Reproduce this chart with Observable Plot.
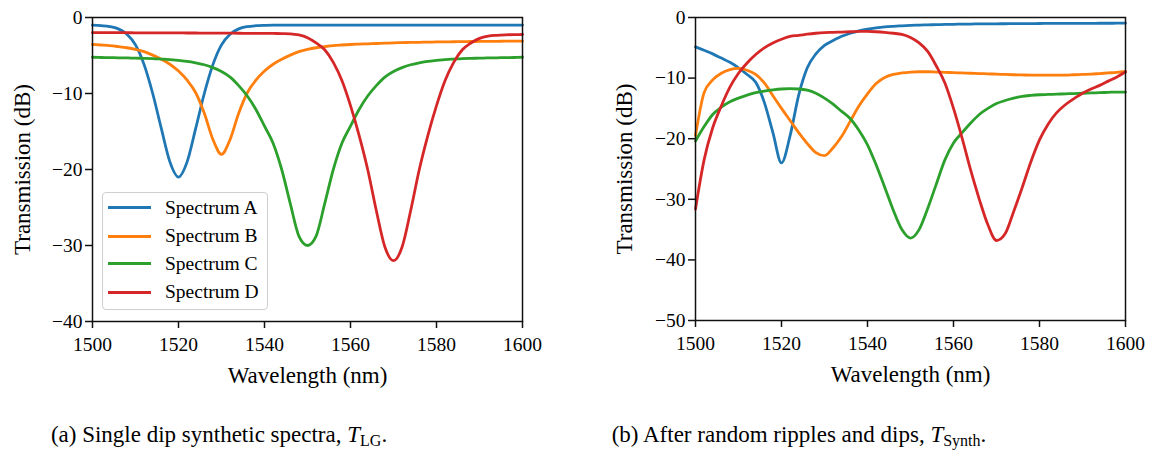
<!DOCTYPE html>
<html>
<head>
<meta charset="utf-8">
<script src="https://cdn.jsdelivr.net/npm/d3@7"></script>
<script src="https://cdn.jsdelivr.net/npm/@observablehq/plot@0.6"></script>
<style>
  html, body { margin: 0; padding: 0; background: #fff; }
  #root { position: relative; width: 1152px; height: 460px; overflow: hidden; background: #fff;
          font-family: "Liberation Serif", "DejaVu Serif", "Noto Serif", Tinos, Times, serif; color: #000; }
  .panel { position: absolute; top: 0; }
  .legend { position: absolute; box-sizing: border-box; border: 1.3px solid #cfcfcf; border-radius: 4px;
            background: rgba(255,255,255,0.85); }
  .legend .row { position: absolute; left: 0; height: 0; }
  .legend .sw { position: absolute; left: 5px; width: 43px; height: 3px; top: -1.5px; }
  .legend .lab { position: absolute; left: 62px; top: -12px; font-size: 19.5px; line-height: 24px; white-space: nowrap; }
  .caption { position: absolute; font-size: 23px; line-height: 23px; white-space: nowrap; transform: translateX(-50%); }
  .caption sub { font-size: 16px; vertical-align: -4px; line-height: 0; }
</style>
</head>
<body>
<div id="root"></div>
<script>
// ---------------- data ----------------
const wavelength = [1500,1502,1504,1506,1508,1510,1512,1514,1516,1518,1520,1522,1524,1526,1528,1530,1532,1534,1536,1538,
  1540,1542,1544,1546,1548,1550,1552,1554,1556,1558,1560,1562,1564,1566,1568,1570,1572,1574,1576,1578,
  1580,1582,1584,1586,1588,1590,1592,1594,1596,1598,1600];

const seriesNames = ["Spectrum A", "Spectrum B", "Spectrum C", "Spectrum D"];
const seriesColors = ["#1f77b4", "#ff7f0e", "#2ca02c", "#d62728"];

const xTicks = [1500, 1520, 1540, 1560, 1580, 1600];
const yTicksLG = [0, -10, -20, -30, -40];
const yTicksSynth = [0, -10, -20, -30, -40, -50];
const xLabel = "Wavelength (nm)";
const yLabel = "Transmission (dB)";

// (a) single dip synthetic spectra, T_LG
const lgA = [-1.0,-1.08,-1.2,-1.5,-2.2,-3.6,-6.2,-10.0,-14.6,-19.0,-21.0,-19.0,-14.6,-10.0,-6.2,-3.6,-2.2,-1.5,-1.2,-1.08,
  -1.03,-1.0,-1.0,-1.0,-1.0,-1.0,-1.0,-1.0,-1.0,-1.0,-1.0,-1.0,-1.0,-1.0,-1.0,-1.0,-1.0,-1.0,-1.0,-1.0,
  -1.0,-1.0,-1.0,-1.0,-1.0,-1.0,-1.0,-1.0,-1.0,-1.0,-1.0];
const lgB = [-3.55,-3.62,-3.7,-3.83,-3.98,-4.2,-4.5,-4.95,-5.5,-6.15,-7.05,-8.25,-9.9,-12.6,-16.05,-18.0,-16.05,-12.6,-9.9,-8.25,
  -7.05,-6.15,-5.5,-4.95,-4.5,-4.2,-3.98,-3.83,-3.7,-3.62,-3.55,-3.5,-3.46,-3.42,-3.38,-3.33,-3.3,-3.28,-3.26,-3.24,
  -3.22,-3.2,-3.19,-3.17,-3.16,-3.15,-3.14,-3.13,-3.12,-3.11,-3.1];
const lgC = [-5.23,-5.26,-5.28,-5.3,-5.32,-5.35,-5.37,-5.4,-5.47,-5.55,-5.65,-5.77,-5.97,-6.22,-6.6,-7.1,-7.84,-8.96,-10.33,-12.1,
  -14.3,-16.55,-20.0,-24.5,-28.76,-30.0,-28.76,-24.5,-20.0,-16.55,-14.3,-12.1,-10.33,-8.96,-7.84,-7.1,-6.6,-6.22,-5.97,-5.77,
  -5.65,-5.55,-5.47,-5.4,-5.37,-5.35,-5.32,-5.3,-5.28,-5.26,-5.23];
const lgD = [-2.0,-2.0,-2.0,-2.0,-2.0,-2.01,-2.01,-2.02,-2.02,-2.03,-2.03,-2.04,-2.04,-2.05,-2.05,-2.06,-2.06,-2.07,-2.08,-2.08,
  -2.09,-2.1,-2.12,-2.15,-2.3,-2.66,-3.35,-4.25,-5.9,-8.3,-11.6,-15.5,-20.0,-25.4,-30.2,-32.0,-30.2,-25.4,-20.0,-15.5,
  -11.6,-8.3,-5.9,-4.25,-3.35,-2.75,-2.45,-2.34,-2.28,-2.25,-2.24];

// (b) after random ripples and dips, T_Synth
const synA = [-4.85,-5.4,-6.0,-6.7,-7.4,-8.3,-9.4,-10.7,-14.0,-19.0,-24.0,-19.5,-12.8,-8.3,-6.0,-4.6,-3.8,-3.1,-2.6,-2.2,
  -1.9,-1.7,-1.55,-1.45,-1.37,-1.3,-1.25,-1.21,-1.18,-1.15,-1.12,-1.1,-1.08,-1.06,-1.05,-1.04,-1.03,-1.02,-1.01,-1.0,
  -0.99,-0.98,-0.98,-0.97,-0.97,-0.96,-0.96,-0.95,-0.95,-0.94,-0.94];
const synB = [-19.5,-12.4,-10.3,-9.2,-8.6,-8.4,-8.7,-9.4,-10.8,-12.9,-15.0,-17.0,-19.0,-20.8,-22.3,-22.8,-21.5,-19.6,-17.1,-14.6,
  -12.6,-10.9,-9.9,-9.4,-9.15,-9.0,-8.95,-8.95,-9.0,-9.05,-9.1,-9.15,-9.2,-9.25,-9.3,-9.35,-9.4,-9.45,-9.48,-9.5,
  -9.5,-9.5,-9.5,-9.5,-9.45,-9.4,-9.35,-9.25,-9.15,-9.05,-8.9];
const synC = [-20.4,-18.0,-16.0,-14.8,-13.9,-13.3,-12.8,-12.4,-12.15,-11.95,-11.8,-11.75,-11.8,-12.0,-12.5,-13.3,-14.3,-15.5,-16.7,-18.6,
  -21.0,-24.3,-28.0,-31.8,-35.0,-36.4,-35.0,-31.5,-27.5,-23.5,-20.7,-19.0,-17.4,-16.0,-15.0,-14.2,-13.7,-13.3,-13.0,-12.85,
  -12.75,-12.7,-12.65,-12.6,-12.55,-12.5,-12.45,-12.4,-12.35,-12.3,-12.3];
const synD = [-31.6,-23.5,-18.2,-14.6,-11.5,-9.2,-7.5,-6.1,-5.0,-4.2,-3.6,-3.1,-2.95,-2.75,-2.6,-2.5,-2.45,-2.4,-2.35,-2.3,
  -2.3,-2.35,-2.45,-2.6,-2.8,-3.3,-4.2,-5.6,-8.0,-10.8,-15.0,-19.9,-25.2,-30.0,-34.2,-36.8,-35.7,-32.0,-28.0,-23.8,
  -20.2,-17.6,-15.7,-14.4,-13.4,-12.5,-11.8,-11.2,-10.5,-9.8,-9.0];

// ---------------- build ----------------
function toRows(seriesList) {
  const rows = [];
  seriesList.forEach((vals, i) => vals.forEach((v, j) => rows.push({name: seriesNames[i], x: wavelength[j], y: v})));
  return rows;
}
const fmtY = d => (d < 0 ? "\u2212" + Math.abs(d) : String(d));
const FONT = "'Liberation Serif', 'DejaVu Serif', 'Noto Serif', Tinos, Times, serif";

function panel({rows, yDomain, yTicks, width, height, ml, mr, mt, mb, labelDx}) {
  return Plot.plot({
    width, height,
    marginLeft: ml, marginRight: mr, marginTop: mt, marginBottom: mb,
    style: {fontFamily: FONT, background: "transparent", color: "#000", overflow: "visible"},
    x: {domain: [1500, 1600]},
    y: {domain: yDomain},
    color: {domain: seriesNames, range: seriesColors},
    marks: [
      Plot.line(rows, {x: "x", y: "y", z: "name", stroke: "name", strokeWidth: 2.8, curve: "monotone-x"}),
      Plot.frame({stroke: "#111", strokeWidth: 1.5}),
      Plot.axisX({ticks: xTicks, tickSize: 7, tickPadding: 9, fontSize: 19.5, label: null,
                  tickFormat: d => String(d), stroke: "#111", strokeWidth: 1.5}),
      Plot.axisY({ticks: yTicks, tickSize: 7, tickPadding: 3, fontSize: 19.5, label: null,
                  tickFormat: fmtY, stroke: "#111", strokeWidth: 1.5}),
      Plot.text([xLabel], {text: d => d, frameAnchor: "bottom", textAnchor: "middle", lineAnchor: "middle",
                           dy: 54, fontSize: 23}),
      Plot.text([yLabel], {text: d => d, frameAnchor: "left", textAnchor: "middle", lineAnchor: "middle",
                           rotate: -90, dx: labelDx, fontSize: 23})
    ]
  });
}

const root = document.getElementById("root");

const plotA = panel({rows: toRows([lgA, lgB, lgC, lgD]), yDomain: [-40, 0], yTicks: yTicksLG,
  width: 560, height: 400, ml: 92, mr: 38, mt: 17, mb: 79, labelDx: -70});
plotA.classList.add("panel");
plotA.style.left = "0px";
root.appendChild(plotA);

const plotB = panel({rows: toRows([synA, synB, synC, synD]), yDomain: [-50, 0], yTicks: yTicksSynth,
  width: 576, height: 400, ml: 119, mr: 27, mt: 17, mb: 80, labelDx: -71});
plotB.classList.add("panel");
plotB.style.left = "576px";
root.appendChild(plotB);

// legend inside panel (a)
const legend = document.createElement("div");
legend.className = "legend";
Object.assign(legend.style, {left: "102px", top: "192px", width: "166px", height: "118px"});
const rowY = [14.7, 43, 70.7, 99];
seriesNames.forEach((name, i) => {
  const row = document.createElement("div");
  row.className = "row";
  row.style.top = rowY[i] + "px";
  const sw = document.createElement("div");
  sw.className = "sw";
  sw.style.background = seriesColors[i];
  const lab = document.createElement("div");
  lab.className = "lab";
  lab.textContent = name;
  row.appendChild(sw);
  row.appendChild(lab);
  legend.appendChild(row);
});
root.appendChild(legend);

// captions
const capA = document.createElement("div");
capA.className = "caption";
capA.style.left = "219px"; capA.style.top = "423px";
capA.innerHTML = "(a) Single dip synthetic spectra, <i>T</i><sub>LG</sub>.";
root.appendChild(capA);

const capB = document.createElement("div");
capB.className = "caption";
capB.style.left = "799px"; capB.style.top = "423px";
capB.innerHTML = "(b) After random ripples and dips, <i>T</i><sub>Synth</sub>.";
root.appendChild(capB);
</script>
</body>
</html>
